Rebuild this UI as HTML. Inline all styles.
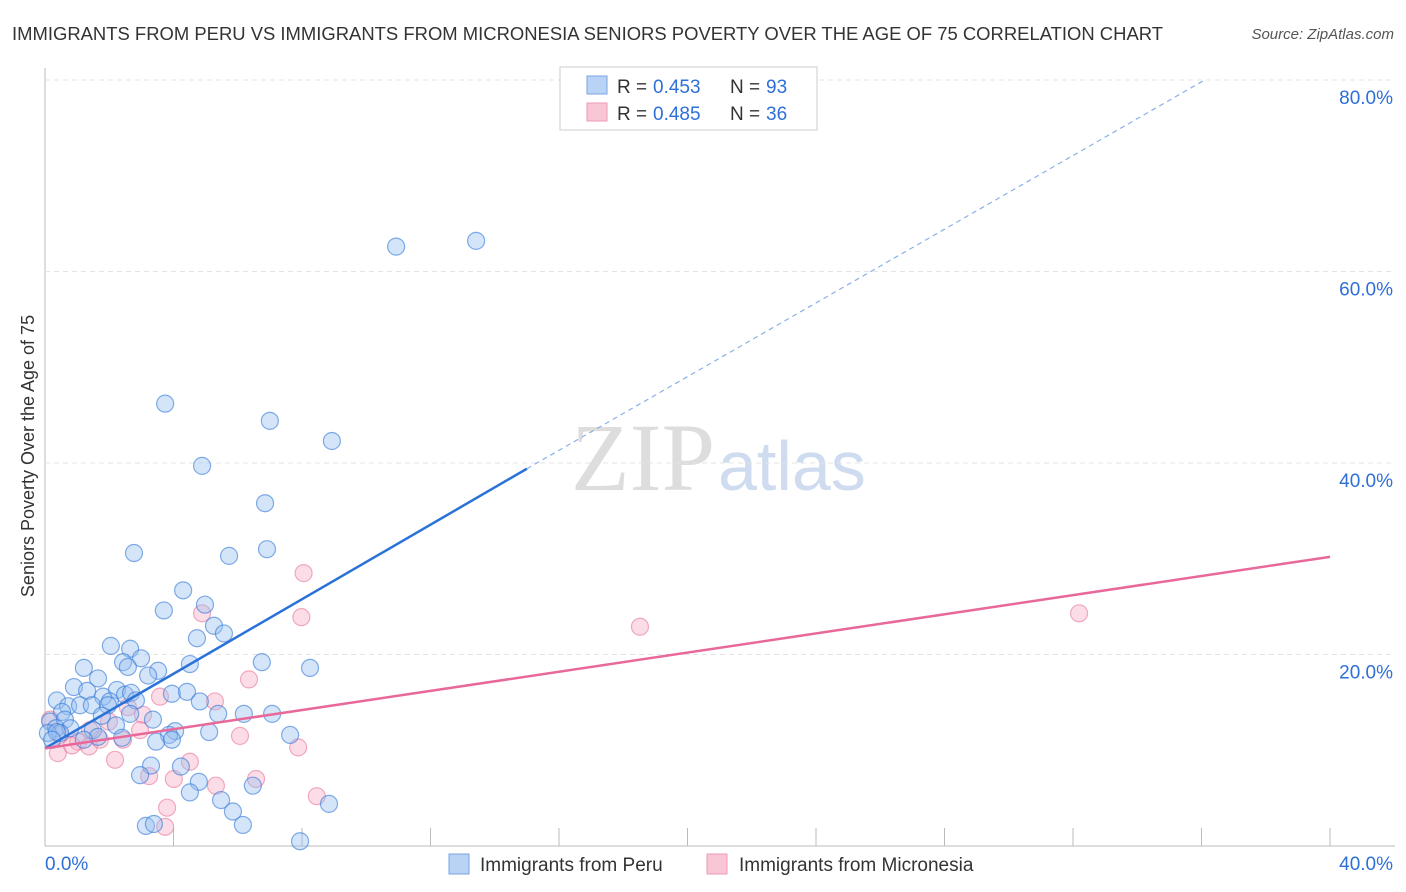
<!DOCTYPE html>
<html><head><meta charset="utf-8"><style>
body{margin:0;background:#fff;font-family:"Liberation Sans",sans-serif}
svg{display:block}
</style></head><body>
<svg id="chart" width="1406" height="892">
<text x="12" y="40" font-size="18" fill="#333" textLength="1151" lengthAdjust="spacingAndGlyphs">IMMIGRANTS FROM PERU VS IMMIGRANTS FROM MICRONESIA SENIORS POVERTY OVER THE AGE OF 75 CORRELATION CHART</text>
<text x="1394" y="39" font-size="15" fill="#555" font-style="italic" text-anchor="end">Source: ZipAtlas.com</text>
<text x="715" y="490" font-size="96" fill="#ddd" text-anchor="end" font-family="Liberation Serif,serif">ZIP</text>
<text x="718" y="490" font-size="70" fill="#cfdcf0">atlas</text>
<text transform="translate(34,456) rotate(-90)" font-size="18" fill="#333" text-anchor="middle">Seniors Poverty Over the Age of 75</text>
<g id="grid"></g><g id="marks"></g>
<g>
<rect x="560" y="67" width="257" height="63" fill="#fff" stroke="#ccc"/>
<rect x="587" y="76" width="20" height="18" fill="#b8d3f5" stroke="#7aa6e0"/>
<rect x="587" y="103" width="20" height="18" fill="#f9c6d6" stroke="#ee9ab5"/>
<text x="617" y="93" font-size="19" fill="#333">R =</text>
<text x="653" y="93" font-size="19" fill="#2e6fd8">0.453</text>
<text x="730" y="93" font-size="19" fill="#333">N =</text>
<text x="766" y="93" font-size="19" fill="#2e6fd8">93</text>
<text x="617" y="120" font-size="19" fill="#333">R =</text>
<text x="653" y="120" font-size="19" fill="#2e6fd8">0.485</text>
<text x="730" y="120" font-size="19" fill="#333">N =</text>
<text x="766" y="120" font-size="19" fill="#2e6fd8">36</text>
</g>
<g>
<rect x="449" y="854" width="20" height="20" fill="#b8d3f5" stroke="#7aa6e0"/>
<text x="480" y="871" font-size="19" fill="#333">Immigrants from Peru</text>
<rect x="707" y="854" width="20" height="20" fill="#f9c6d6" stroke="#ee9ab5"/>
<text x="739" y="871" font-size="19" fill="#333">Immigrants from Micronesia</text>
</g>
</svg>
<script>
const xTicks=[0,40];
const yTicks=[20,40,60,80];
const peruX=[10.93,13.42,3.74,7.00,8.93,4.89,6.85,2.77,5.73,6.91,4.30,3.70,4.98,5.26,5.57,4.73,2.05,2.65,2.99,2.43,2.58,3.52,4.51,6.75,8.25,1.21,1.65,3.21,0.90,1.31,2.24,2.49,2.68,3.95,4.42,1.81,2.02,2.83,0.37,0.72,1.09,0.53,1.46,4.82,1.96,2.65,5.39,6.19,7.07,0.16,0.62,1.77,3.36,0.34,0.79,0.47,0.09,1.49,2.21,4.05,3.86,5.11,7.63,1.65,2.40,1.21,3.46,3.95,3.30,4.23,2.96,4.79,4.51,6.47,5.48,8.84,5.85,3.14,3.39,6.16,7.94,0.37,0.22];
const peruY=[62.6,63.2,46.2,44.4,42.3,39.7,35.8,30.6,30.3,31.0,26.7,24.6,25.2,23.0,22.2,21.7,20.9,20.6,19.6,19.2,18.7,18.3,19.0,19.2,18.6,18.6,17.5,17.8,16.6,16.2,16.3,15.8,16.0,15.9,16.1,15.6,15.1,15.2,15.2,14.6,14.7,14.0,14.7,15.1,14.7,13.8,13.8,13.8,13.8,13.0,13.2,13.6,13.2,12.3,12.3,11.8,11.8,12.1,12.6,12.0,11.6,11.9,11.6,11.4,11.3,11.1,10.9,11.1,8.4,8.3,7.4,6.7,5.6,6.3,4.8,4.4,3.6,2.1,2.3,2.2,0.5,11.9,11.1];
const micX=[8.05,32.19,18.52,7.98,4.89,6.35,5.29,3.58,2.58,3.05,1.99,6.07,7.88,0.16,0.47,1.03,1.37,1.71,0.84,0.40,2.18,4.51,3.24,4.01,5.32,6.57,8.46,3.80,3.74,2.43,2.96,1.40];
const micY=[28.5,24.3,22.9,23.9,24.3,17.4,15.1,15.6,14.5,13.7,13.0,11.5,10.3,13.2,11.6,10.9,10.4,11.1,10.5,9.7,9.0,8.8,7.3,7.0,6.3,7.0,5.2,4.0,2.0,11.1,12.1,12.1];
const peruLine=[[0,10.2],[15.0,39.4],[36.1,80]];
const micLine=[[0,10.2],[40,30.2]];
const X=v=>45+v*1285/40, Y=v=>846-v*191.5/20;
const NS='http://www.w3.org/2000/svg';
function mk(t,a,p){const e=document.createElementNS(NS,t);for(const k in a)e.setAttribute(k,a[k]);p.appendChild(e);return e;}
const g=document.getElementById('grid'), m=document.getElementById('marks');
mk('line',{x1:45,y1:68,x2:45,y2:846,stroke:'#bbb'},g);
mk('line',{x1:45,y1:846,x2:1395,y2:846,stroke:'#bbb'},g);
for(let i=1;i<=10;i++){mk('line',{x1:X(i*4),y1:828,x2:X(i*4),y2:846,stroke:'#bbb'},g);}
yTicks.forEach(v=>{
 const l=mk('line',{x1:45,y1:Y(v),x2:1395,y2:Y(v),stroke:'#e4e4e4','stroke-dasharray':'5,4'},g);
 
 
 const t=mk('text',{x:1393,y:Y(v)+24,'font-size':19,fill:'#2e6fd8','text-anchor':'end'},g);
 t.textContent=v.toFixed(1)+'%';
 
 
});
xTicks.forEach(v=>{
 const t=mk('text',{x:v===0?X(v):1393,y:870,'font-size':19,fill:'#2e6fd8','text-anchor':v===0?'start':'end'},g);
 t.textContent=v.toFixed(1)+'%';
 
 
});
micX.forEach((v,i)=>{
 const c=mk('circle',{cx:X(v),cy:Y(micY[i]),r:8.5,fill:'rgba(247,170,195,0.4)',stroke:'rgba(232,120,155,0.6)','stroke-width':1.2},m);
 
 
});
peruX.forEach((v,i)=>{
 const c=mk('circle',{cx:X(v),cy:Y(peruY[i]),r:8.5,fill:'rgba(150,190,240,0.4)',stroke:'rgba(50,120,215,0.6)','stroke-width':1.2},m);
 
 
});
let l1=mk('line',{x1:X(peruLine[0][0]),y1:Y(peruLine[0][1]),x2:X(peruLine[1][0]),y2:Y(peruLine[1][1]),stroke:'#2a72d8','stroke-width':2.5},m);


let l2=mk('line',{x1:X(peruLine[1][0]),y1:Y(peruLine[1][1]),x2:X(peruLine[2][0]),y2:Y(peruLine[2][1]),stroke:'#8ab0e6','stroke-width':1.2,'stroke-dasharray':'5,4'},m);


let l3=mk('line',{x1:X(micLine[0][0]),y1:Y(micLine[0][1]),x2:X(micLine[1][0]),y2:Y(micLine[1][1]),stroke:'#e8689a','stroke-width':2.5},m);


</script>
</body></html>
